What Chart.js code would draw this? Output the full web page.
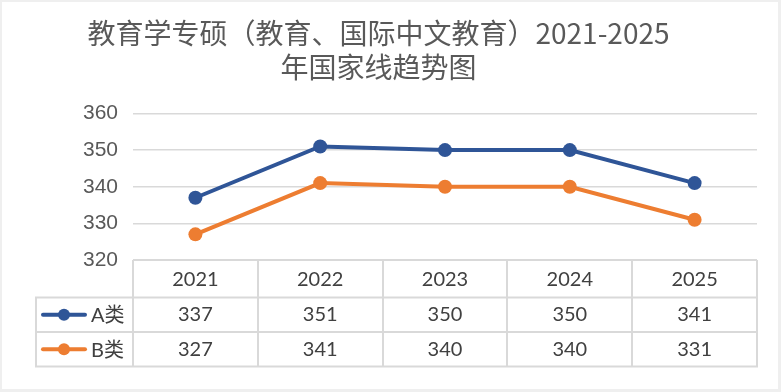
<!DOCTYPE html>
<html>
<head>
<meta charset="utf-8">
<script src="https://cdn.jsdelivr.net/npm/chart.js@4/dist/chart.umd.min.js"></script>
<style>
  html, body { margin: 0; padding: 0; background: #fff; }
  #wrap { width: 781px; height: 392px; position: relative; }
</style>
</head>
<body>
<div id="wrap"><canvas id="c" width="781" height="392"></canvas></div>
<script>
const titleLines = ['教育学专硕（教育、国际中文教育）2021-2025', '年国家线趋势图'];
const years = ['2021', '2022', '2023', '2024', '2025'];
const seriesNames = ['A类', 'B类'];
const seriesA = [337, 351, 350, 350, 341];
const seriesB = [327, 341, 340, 340, 331];
const yTicks = [320, 330, 340, 350, 360];

const colorA = '#2F5597';
const colorB = '#ED7D31';
const gridColor = '#d9d9d9';
const tableFont = "Lato, 'Noto Sans CJK SC', sans-serif";

const tableLabels = years.map((y, i) => [y, String(seriesA[i]), String(seriesB[i])]);

const framePlugin = {
  id: 'frame',
  beforeDraw(chart) {
    const ctx = chart.ctx;
    ctx.save();
    ctx.fillStyle = '#efefef';
    ctx.fillRect(0, 0, chart.width, chart.height);
    ctx.fillStyle = '#ffffff';
    ctx.fillRect(2, 2, chart.width - 5, chart.height - 5);
    ctx.restore();
  }
};

const tablePlugin = {
  id: 'dataTable',
  afterDraw(chart) {
    const ctx = chart.ctx;
    const area = chart.chartArea;
    const x = chart.scales.x;
    const n = chart.data.labels.length;
    const top = area.bottom;
    const headBottom = top + 37.5;
    const rowA = headBottom + 34.5;
    const rowB = rowA + 34.5;
    const legendLeft = 36;
    ctx.save();
    ctx.strokeStyle = gridColor;
    ctx.lineWidth = 2;
    ctx.beginPath();
    const half = (x.getPixelForValue(1) - x.getPixelForValue(0)) / 2;
    for (let i = 0; i <= n; i++) {
      const px = i < n ? x.getPixelForValue(i) - half : x.getPixelForValue(n - 1) + half;
      ctx.moveTo(Math.round(px), top);
      ctx.lineTo(Math.round(px), rowB);
    }
    ctx.moveTo(legendLeft, headBottom);
    ctx.lineTo(legendLeft, rowB);
    ctx.moveTo(area.left, top);
    ctx.lineTo(area.right, top);
    [headBottom, rowA, rowB].forEach(yy => {
      ctx.moveTo(legendLeft - 1, yy);
      ctx.lineTo(area.right + 1, yy);
    });
    ctx.stroke();

    const centers = [(headBottom + rowA) / 2, (rowA + rowB) / 2];
    chart.data.datasets.forEach((ds, i) => {
      const cy = centers[i];
      ctx.strokeStyle = ds.borderColor;
      ctx.lineWidth = 4;
      ctx.lineCap = 'round';
      ctx.beginPath();
      ctx.moveTo(43, cy);
      ctx.lineTo(85, cy);
      ctx.stroke();
      ctx.fillStyle = ds.borderColor;
      ctx.beginPath();
      ctx.arc(64, cy, 6, 0, Math.PI * 2);
      ctx.fill();
      ctx.fillStyle = '#404040';
      ctx.font = '20px ' + tableFont;
      ctx.textBaseline = 'middle';
      ctx.textAlign = 'left';
      ctx.fillText(ds.label, 91, cy + 1);
    });
    ctx.restore();
  }
};

new Chart(document.getElementById('c'), {
  type: 'line',
  data: {
    labels: tableLabels,
    datasets: [
      {
        label: seriesNames[0],
        data: seriesA,
        borderColor: colorA,
        backgroundColor: colorA,
        borderWidth: 4,
        pointRadius: 7,
        pointBackgroundColor: colorA,
        pointBorderWidth: 0,
        tension: 0
      },
      {
        label: seriesNames[1],
        data: seriesB,
        borderColor: colorB,
        backgroundColor: colorB,
        borderWidth: 4,
        pointRadius: 7,
        pointBackgroundColor: colorB,
        pointBorderWidth: 0,
        tension: 0
      }
    ]
  },
  options: {
    responsive: false,
    animation: false,
    devicePixelRatio: 1,
    layout: { padding: { left: 0, right: 24, top: 0, bottom: 25 } },
    plugins: {
      legend: { display: false },
      tooltip: { enabled: false },
      title: {
        display: true,
        text: titleLines,
        color: '#595959',
        font: { family: "'Noto Sans CJK SC', sans-serif", size: 28, weight: 'normal', lineHeight: 1.214 },
        padding: { top: 16, bottom: 29.5 }
      }
    },
    scales: {
      x: {
        offset: true,
        grid: { display: false, drawTicks: false },
        border: { display: false },
        ticks: {
          color: '#404040',
          font: { family: tableFont, size: 20, lineHeight: 1.765 },
          padding: 1.5,
          maxRotation: 0,
          autoSkip: false
        },
        afterFit(scale) { scale.height = 107; }
      },
      y: {
        min: 320,
        max: 360,
        afterBuildTicks(scale) { scale.ticks = yTicks.map(v => ({ value: v })); },
        grid: { color: gridColor, lineWidth: 1.5, drawTicks: false },
        border: { display: false },
        ticks: {
          color: '#595959',
          font: { family: "'Liberation Sans', Arial, sans-serif", size: 21 },
          padding: 15
        },
        afterFit(scale) { scale.width = 133; }
      }
    }
  },
  plugins: [framePlugin, tablePlugin]
});
</script>
</body>
</html>
